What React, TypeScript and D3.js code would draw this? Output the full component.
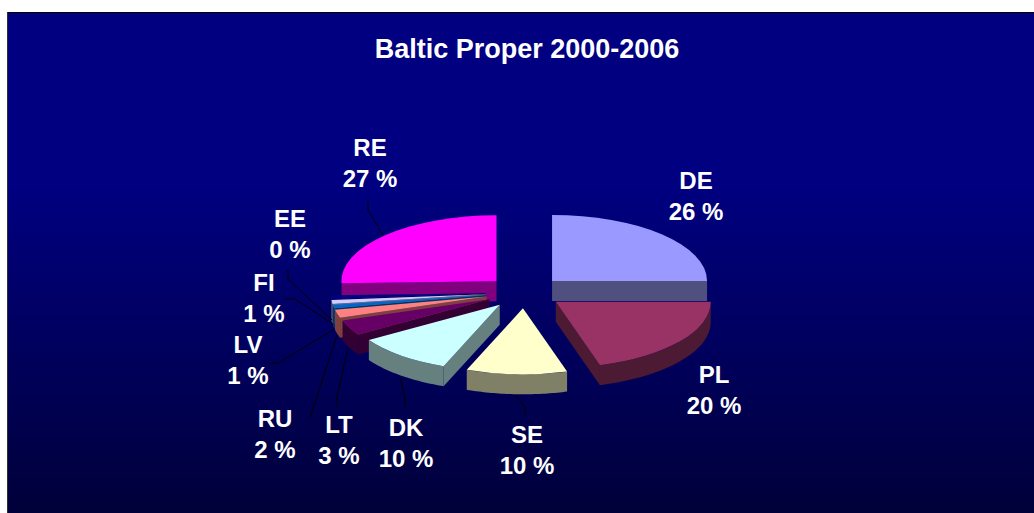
import React from "react";
import * as d3 from "d3";

const W = 1034, H = 513;
const title = "Baltic Proper 2000-2006";
const categories = ["DE", "PL", "SE", "DK", "LT", "RU", "LV", "FI", "EE", "RE"];
const labelPercents = [26, 20, 10, 10, 3, 2, 1, 1, 0, 27];
// Share of the circle as actually drawn (perspective skews it from the labels)
const drawnShares = [25, 20.4, 10.5, 10.1, 3.8, 2, 0.8, 1, 0.9, 25.5];
const topColors = ["#9999FF", "#993366", "#FFFFCC", "#CCFFFF", "#660066", "#FF8080", "#0066CC", "#CCCCFF", "#000080", "#FF00FF"];
const wallColors = ["#50507F", "#4D1A33", "#808066", "#668080", "#330033", "#804040", "#003366", "#666680", "#000050", "#800080"];
const paintOrder = ["RE", "DE", "EE", "FI", "LV", "RU", "LT", "DK", "PL", "SE"];
const labelX = [696, 714, 527, 406, 339, 275, 248, 264, 290, 370];
const labelY = [180, 374, 434, 427, 424, 418, 344, 282, 218, 147];
const leaders: Record<string, [number, number][]> = {
  RE: [[368, 200], [368, 210], [383, 235]],
  EE: [[288, 270], [288, 279], [332, 320]],
  FI: [[284, 299], [295, 299], [333, 324]],
  LV: [[269, 363], [278, 363], [333, 330]],
  RU: [[310, 418], [337, 335]],
  LT: [[337, 407], [337, 397], [348, 348]],
  DK: [[405, 408], [405, 398], [400, 377]],
  SE: [[515, 395], [525, 407], [525, 415]],
};

const cx = 524.5, cy = 292.3, rx = 155, ry = 66, depth = 20, explodeX = 39, explodeY = 16;
const font = "'Liberation Sans', Arial, sans-serif";
const lineGen = d3.line<[number, number]>();
const arcGen = d3.arc<any>().innerRadius(0).outerRadius(1);
const arcs = d3.pie<number>().sort(null)(drawnShares);

function Slice({ i }: { i: number }) {
  const a = arcs[i];
  const mid = (a.startAngle + a.endAngle) / 2;
  const ax = cx + explodeX * Math.sin(mid);
  const ay = cy - explodeY * Math.cos(mid);
  const pt = (t: number, dz = 0): [number, number] => [ax + rx * Math.sin(t), ay - ry * Math.cos(t) + dz];
  const walls: string[] = [];
  const lo = Math.max(a.startAngle, Math.PI / 2), hi = Math.min(a.endAngle, (3 * Math.PI) / 2);
  if (hi > lo) {
    const ts = d3.range(0, 41).map((k) => lo + ((hi - lo) * k) / 40);
    walls.push(lineGen([...ts.map((t) => pt(t)), ...ts.slice().reverse().map((t) => pt(t, depth))])! + "Z");
  }
  const radial = (t: number) =>
    lineGen([[ax, ay], pt(t), pt(t, depth), [ax, ay + depth]])! + "Z";
  if (a.endAngle > Math.PI / 2 - 1e-6 && a.endAngle < Math.PI) walls.push(radial(a.endAngle));
  if (a.startAngle >= Math.PI && a.startAngle < (3 * Math.PI) / 2 + 1e-6) walls.push(radial(a.startAngle));
  return (
    <g>
      {walls.map((d, k) => <path key={k} d={d} fill={wallColors[i]} />)}
      <path
        d={arcGen({ startAngle: a.startAngle, endAngle: a.endAngle })!}
        transform={`translate(${ax},${ay}) scale(${rx},${ry})`}
        fill={topColors[i]}
      />
    </g>
  );
}

export default function App() {
  return (
    <svg width={W} height={H} viewBox={`0 0 ${W} ${H}`} style={{ position: "absolute", left: 0, top: 0, background: "#fff" }}>
      <defs>
        <linearGradient id="bg" x1="0" y1="0" x2="0" y2="1">
          <stop offset="0" stopColor="#000080" />
          <stop offset="0.35" stopColor="#000080" />
          <stop offset="1" stopColor="#00003A" />
        </linearGradient>
      </defs>
      <rect x={7} y={12} width={W - 7} height={H - 12} fill="url(#bg)" />
      <line x1={7} x2={W} y1={12.5} y2={12.5} stroke="#000" />
      <line x1={7.5} x2={7.5} y1={12} y2={H} stroke="#303030" />
      <text x={527} y={49} textAnchor="middle" dominantBaseline="central" fill="#fff" fontFamily={font} fontWeight="bold" fontSize={27}>
        {title}
      </text>
      {paintOrder.map((c) => <Slice key={c} i={categories.indexOf(c)} />)}
      {Object.entries(leaders).map(([k, p]) => (
        <path key={k} d={lineGen(p)!} fill="none" stroke="#000" strokeWidth={1} />
      ))}
      {categories.map((c, i) => (
        <g key={c} fill="#fff" fontFamily={font} fontWeight="bold" fontSize={24} textAnchor="middle">
          <text x={labelX[i]} y={labelY[i]} dominantBaseline="central">{c}</text>
          <text x={labelX[i]} y={labelY[i] + 31} dominantBaseline="central">{labelPercents[i]} %</text>
        </g>
      ))}
    </svg>
  );
}
